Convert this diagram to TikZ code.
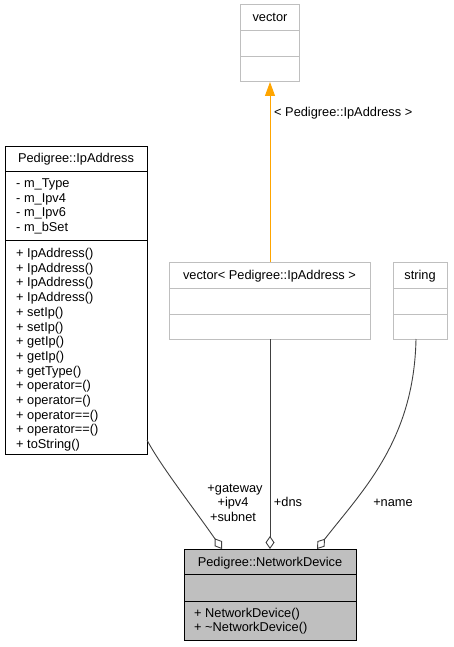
\documentclass[tikz,border=0pt]{standalone}
\usepackage{fontspec}
\setmainfont{Liberation Sans}
\usetikzlibrary{arrows.meta,calc}
\definecolor{boxgray}{HTML}{BFBFBF}
\definecolor{linegray}{HTML}{404040}
\definecolor{inhorange}{HTML}{FFA500}
\begin{document}
\begin{tikzpicture}[x=1pt,y=-1pt,
  font=\fontsize{12.8}{14.7}\selectfont,
  classbox/.style={draw=black,line width=1pt,inner sep=0pt,outer sep=0pt,anchor=north west},
  grayclass/.style={classbox,draw=boxgray},
  txt/.style={inner sep=0pt,anchor=base},
  ltxt/.style={inner sep=0pt,anchor=base west},
  usage/.style={draw=linegray,line width=0.9pt,-{Diamond[open,length=13pt,width=9pt,line width=0.9pt]}},
  inherit/.style={draw=inhorange,line width=1pt,-{Triangle[length=14pt,width=10pt]}}]
\useasboundingbox (0,0) rectangle (453,647);

% vector
\node[grayclass,minimum width=59pt,minimum height=77pt] (vec) at (240,5) {};
\draw[boxgray,line width=1pt] ($(vec.north west)+(0,26)$) -- ($(vec.north east)+(0,26)$);
\draw[boxgray,line width=1pt] ($(vec.north west)+(0,52)$) -- ($(vec.north east)+(0,52)$);
\node[txt] (vect) at (270,22) {vector};

% vector< Pedigree::IpAddress >
\node[grayclass,minimum width=201pt,minimum height=77pt] (vecip) at (169,262) {};
\draw[boxgray,line width=1pt] ($(vecip.north west)+(0,26)$) -- ($(vecip.north east)+(0,26)$);
\draw[boxgray,line width=1pt] ($(vecip.north west)+(0,52)$) -- ($(vecip.north east)+(0,52)$);
\node[txt] (vecipt) at (269.5,279) {vector< Pedigree::IpAddress >};

% string
\node[grayclass,minimum width=54pt,minimum height=77pt] (str) at (393,262) {};
\draw[boxgray,line width=1pt] ($(str.north west)+(0,26)$) -- ($(str.north east)+(0,26)$);
\draw[boxgray,line width=1pt] ($(str.north west)+(0,52)$) -- ($(str.north east)+(0,52)$);
\node[txt] (strt) at (420,279) {string};

% Pedigree::IpAddress
\node[classbox,minimum width=142pt,minimum height=307pt] (ip) at (5,147) {};
\draw[line width=1pt] ($(ip.north west)+(0,24.5)$) -- ($(ip.north east)+(0,24.5)$);
\draw[line width=1pt] ($(ip.north west)+(0,93)$) -- ($(ip.north east)+(0,93)$);
\node[txt] (ipt) at (76,163) {Pedigree::IpAddress};
\foreach \t [count=\i from 0] in {- m\_Type,- m\_Ipv4,- m\_Ipv6,- m\_bSet}
  \node[ltxt] (ipa\i) at (16,187.5+\i*14.7) {\t};
\foreach \t [count=\i from 0] in {+ IpAddress(),+ IpAddress(),+ IpAddress(),+ IpAddress(),+ setIp(),+ setIp(),+ getIp(),+ getIp(),+ getType(),+ operator=(),+ operator=(),+ operator==(),+ operator==(),+ toString()}
  \node[ltxt] (ipm\i) at (16,257.5+\i*14.7) {\t};

% Pedigree::NetworkDevice
\node[classbox,fill=boxgray,minimum width=172pt,minimum height=91pt] (nd) at (184,549) {};
\draw[line width=1pt] ($(nd.north west)+(0,25)$) -- ($(nd.north east)+(0,25)$);
\draw[line width=1pt] ($(nd.north west)+(0,52)$) -- ($(nd.north east)+(0,52)$);
\node[txt] (ndt) at (270,566) {Pedigree::NetworkDevice};
\node[ltxt] (ndm0) at (194,617) {+ NetworkDevice()};
\node[ltxt] (ndm1) at (194,631.7) {+ \textasciitilde NetworkDevice()};

% connection points
\coordinate (ipout) at ($(ip.south east)+(0,-14)$);
\coordinate (ndg) at ($(nd.north west)+(38,0)$);
\coordinate (ndd) at ($(nd.north west)+(86,0)$);
\coordinate (ndn) at ($(nd.north west)+(133,0)$);
\coordinate (strout) at ($(str.south west)+(23,0)$);
\coordinate (vecipin) at ($(vecip.north west)+(101,0)$);
\coordinate (vecipout) at ($(vecip.south west)+(101,0)$);
\coordinate (vecout) at ($(vec.south west)+(30,0)$);

% inheritance (template instance)
\draw[inherit] (vecipin) -- (vecout);
\node[ltxt] (tmpl) at (274,117) {< Pedigree::IpAddress >};

% usage connectors
\draw[usage] (ipout) .. controls (160,465) and (195,510) .. (ndg);
\draw[usage] (vecipout) -- (ndd);
\draw[usage] (strout) .. controls (414,440) and (363,490) .. (ndn);

% labels
\node[txt] (lg) at (235,492) {+gateway};
\node[txt] (li) at (233,506.5) {+ipv4};
\node[txt] (ls) at (233,521) {+subnet};
\node[txt] (ld) at (288,506.5) {+dns};
\node[txt] (ln) at (393,506.5) {+name};
\end{tikzpicture}
\end{document}
